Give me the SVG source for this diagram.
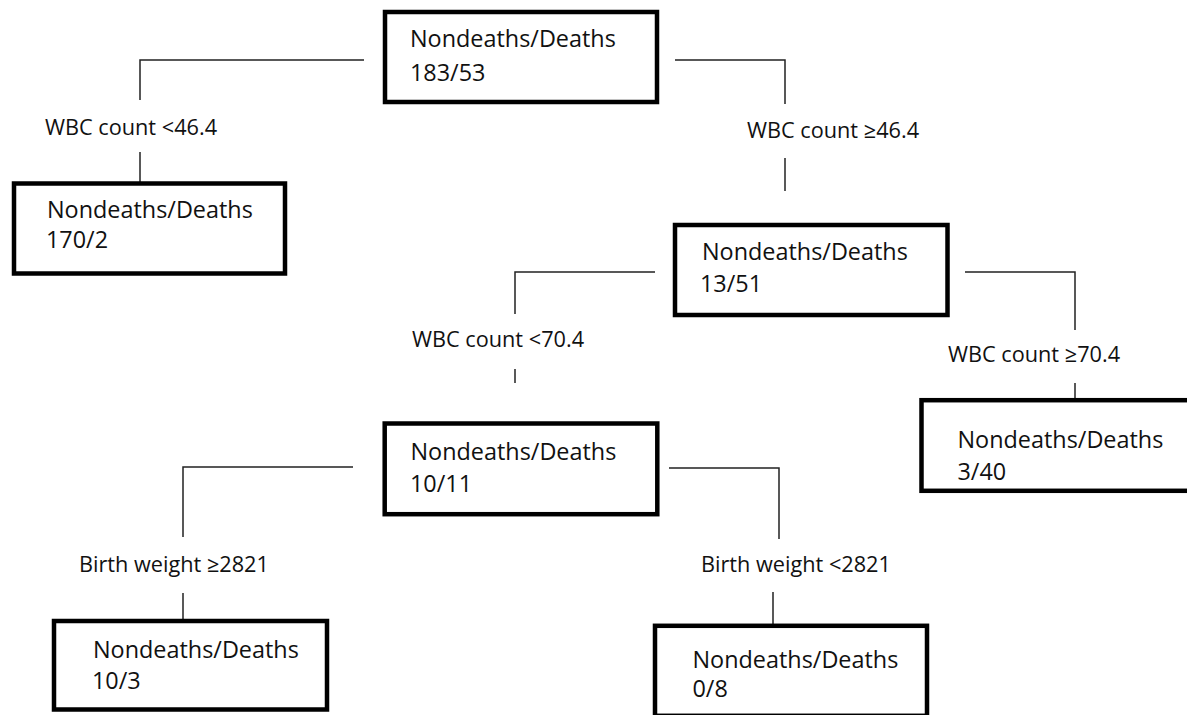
<svg xmlns="http://www.w3.org/2000/svg" width="1187" height="715" viewBox="0 0 1187 715">
<style>
.box{fill:#fff;stroke:#000;stroke-width:4.5}
.t{font-family:"Open Sans","Liberation Sans",sans-serif;font-size:23.4px;fill:#111}
.lbl{font-family:"Open Sans","Liberation Sans",sans-serif;font-size:21.7px;fill:#111}
.c{fill:none;stroke:#222;stroke-width:1.5}
</style>
<rect width="1187" height="715" fill="#fff"/>
<g id="connectors">
<path class="c" d="M364,60 H140 V100"/>
<path class="c" d="M140,152 V183"/>
<path class="c" d="M675,60 H785 V104"/>
<path class="c" d="M785,158 V191"/>
<path class="c" d="M655,272 H515 V314"/>
<path class="c" d="M515,369 V383"/>
<path class="c" d="M965,272 H1075 V330"/>
<path class="c" d="M1075,383 V399"/>
<path class="c" d="M353,467 H183 V537"/>
<path class="c" d="M183,593 V620"/>
<path class="c" d="M669,468 H779 V539"/>
<path class="c" d="M773,592 V624"/>
<text class="lbl" x="45" y="135">WBC count &lt;46.4</text>
<text class="lbl" x="747" y="138">WBC count ≥46.4</text>
<text class="lbl" x="412" y="347">WBC count &lt;70.4</text>
<text class="lbl" x="948" y="362">WBC count ≥70.4</text>
<text class="lbl" x="79" y="572">Birth weight ≥2821</text>
<text class="lbl" x="701" y="572">Birth weight &lt;2821</text>
</g>
<g id="node-root">
<rect class="box" x="385" y="12" width="272" height="90"/>
<text class="t" x="410" y="47">Nondeaths/Deaths</text>
<text class="t" x="410" y="81">183/53</text>
</g>
<g id="node-left1">
<rect class="box" x="14" y="183.5" width="271" height="90"/>
<text class="t" x="47" y="218">Nondeaths/Deaths</text>
<text class="t" x="46" y="248">170/2</text>
</g>
<g id="node-right1">
<rect class="box" x="675" y="225" width="272.5" height="90"/>
<text class="t" x="702" y="260">Nondeaths/Deaths</text>
<text class="t" x="700" y="292">13/51</text>
</g>
<g id="node-right2">
<rect class="box" x="921.5" y="400.2" width="272" height="90.6"/>
<text class="t" x="957.5" y="448">Nondeaths/Deaths</text>
<text class="t" x="957.5" y="480">3/40</text>
</g>
<g id="node-mid">
<rect class="box" x="384.7" y="423.5" width="272.6" height="90.7"/>
<text class="t" x="410.5" y="460">Nondeaths/Deaths</text>
<text class="t" x="410" y="492">10/11</text>
</g>
<g id="node-ll">
<rect class="box" x="54" y="621" width="273" height="88.5"/>
<text class="t" x="93" y="658">Nondeaths/Deaths</text>
<text class="t" x="92" y="689">10/3</text>
</g>
<g id="node-lr">
<rect class="box" x="655" y="625.8" width="272" height="90"/>
<text class="t" x="692.5" y="668">Nondeaths/Deaths</text>
<text class="t" x="692.5" y="697">0/8</text>
</g>
</svg>
